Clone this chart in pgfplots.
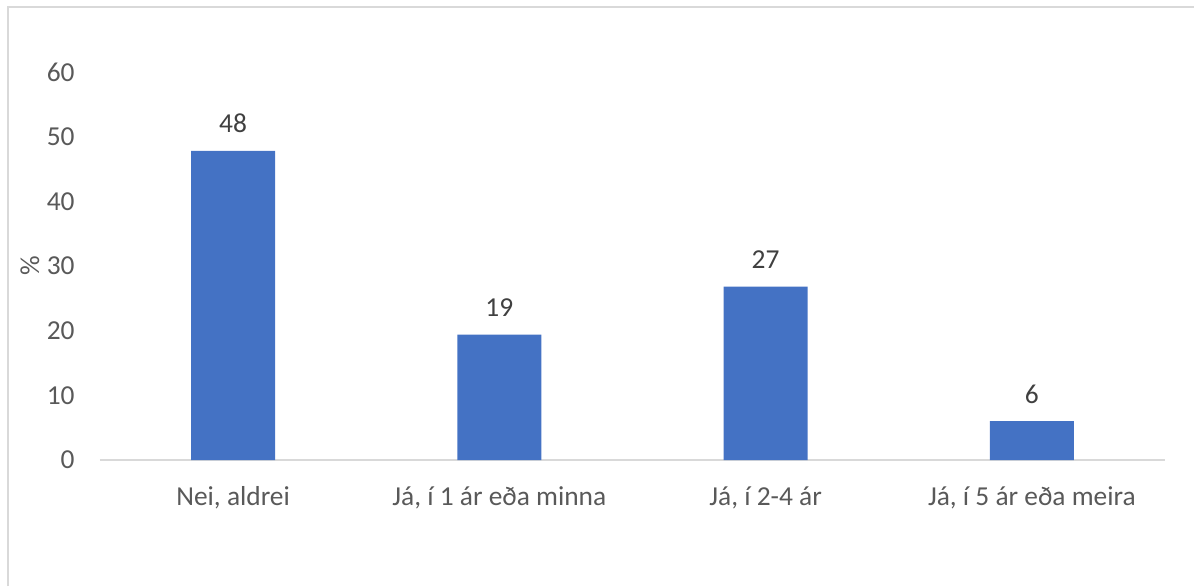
\documentclass[border=0pt]{standalone}
\usepackage{fontspec}
\setmainfont{Carlito}
\usepackage{pgfplots}
\pgfplotsset{compat=1.18}
\definecolor{barblue}{HTML}{4472C4}
\definecolor{tickgray}{HTML}{595959}
\definecolor{labgray}{HTML}{404040}
\definecolor{linegray}{HTML}{D9D9D9}
\begin{document}
\begin{tikzpicture}[x=1pt,y=1pt]
\path[use as bounding box] (0,0) rectangle (597,293);
\draw[linegray, line width=1pt] (4,0) -- (4,289.5) -- (597,289.5);
\begin{axis}[
  at={(50pt,63pt)}, anchor=south west,
  scale only axis, width=532.5pt, height=194pt,
  xmin=-0.5, xmax=3.5, ymin=0, ymax=60,
  ybar, bar width=42pt,
  xtick={0,1,2,3},
  xticklabels={{Nei, aldrei}, {Já, í 1 ár eða minna}, {Já, í 2-4 ár}, {Já, í 5 ár eða meira}},
  ytick={0,10,...,60},
  major tick length=0pt,
  separate axis lines,
  axis x line*=bottom, axis y line*=left,
  x axis line style={draw=linegray, line width=1pt, -},
  y axis line style={draw=none, -},
  /pgf/number format/assume math mode=true,
  tick label style={font=\fontsize{13.7}{16}\selectfont, text=tickgray, inner sep=0pt},
  yticklabel style={anchor=east, xshift=-12.5pt},
  xticklabel style={anchor=base, yshift=-22.5pt},
  ylabel={\%},
  ylabel style={at={(axis description cs:0,0.5)}, yshift=35pt, anchor=center, inner sep=0pt, font=\fontsize{13.7}{16}\selectfont, text=tickgray},
  nodes near coords,
  point meta=explicit symbolic,
  nodes near coords style={anchor=base, yshift=9pt, inner sep=0pt, font=\fontsize{13.7}{16}\selectfont, text=labgray},
  clip=false,
]
\addplot[fill=barblue, draw=none] coordinates {(0,47.8) [48] (1,19.4) [19] (2,26.8) [27] (3,6.0) [6]};
\end{axis}
\end{tikzpicture}
\end{document}
